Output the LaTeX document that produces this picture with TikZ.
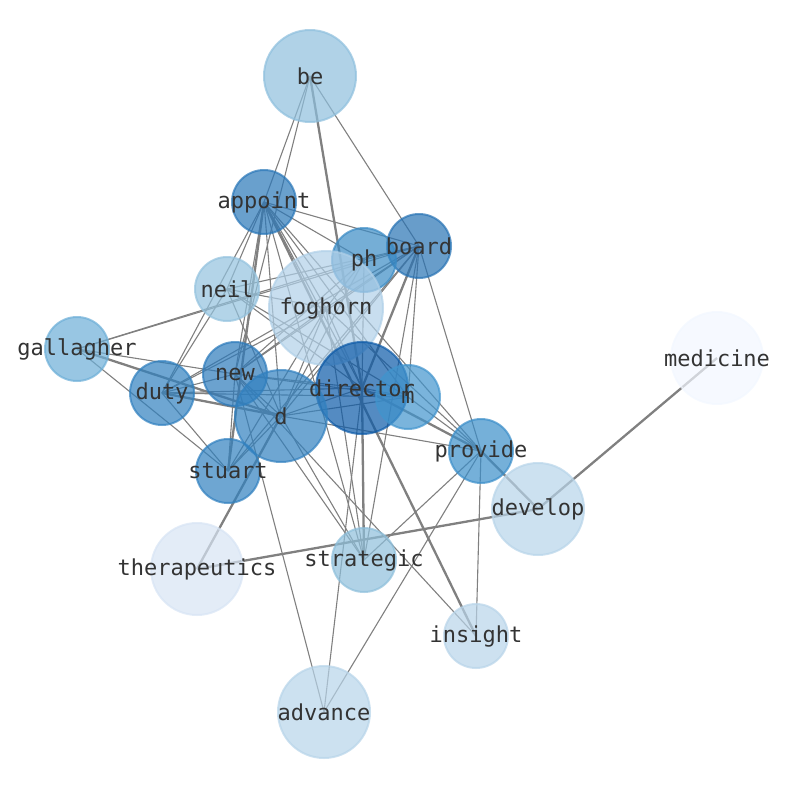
\documentclass[tikz,border=0pt]{standalone}
\usepackage{fontspec}
\setmonofont{DejaVu Sans Mono}
\usetikzlibrary{backgrounds}
\definecolor{ink}{RGB}{51,51,51}
\definecolor{wire}{RGB}{128,128,128}
\definecolor{cbe}{RGB}{142,191,221}
\definecolor{cappoint}{RGB}{42,119,184}
\definecolor{cboard}{RGB}{40,115,180}
\definecolor{cph}{RGB}{58,139,197}
\definecolor{cneil}{RGB}{147,194,222}
\definecolor{cfoghorn}{RGB}{176,208,232}
\definecolor{cgallagher}{RGB}{108,174,215}
\definecolor{cmedicine}{RGB}{242,247,255}
\definecolor{cnew}{RGB}{44,122,187}
\definecolor{cduty}{RGB}{48,128,191}
\definecolor{cdirector}{RGB}{12,90,168}
\definecolor{cm}{RGB}{65,148,205}
\definecolor{cd}{RGB}{49,128,191}
\definecolor{cprovide}{RGB}{58,142,201}
\definecolor{cstuart}{RGB}{48,128,191}
\definecolor{cdevelop}{RGB}{183,212,233}
\definecolor{ctherapeutics}{RGB}{215,228,244}
\definecolor{cstrategic}{RGB}{142,191,219}
\definecolor{cinsight}{RGB}{184,212,233}
\definecolor{cadvance}{RGB}{183,212,233}
\tikzset{
  word/.style={circle, inner sep=0pt, line width=2pt, fill opacity=0.7,
    draw opacity=0.7},
  smalldot/.style={word, minimum size=64pt},
  bigdot/.style={word, minimum size=92pt},
  hugedot/.style={word, minimum size=114pt},
  lbl/.style={font=\ttfamily\fontsize{22}{24}\selectfont, text=ink, inner sep=0pt},
  link/.style={draw=wire, line width=1.1pt},
  tlink/.style={draw=wire, line width=2.3pt},
}
\begin{document}
\begin{tikzpicture}[x=1pt,y=-1pt]
  \useasboundingbox (0,0) rectangle (794,790);
  % words
  \node[bigdot, fill=cbe, draw=cbe] (be) at (310,76) {};
  \node[smalldot, fill=cappoint, draw=cappoint] (appoint) at (264,202) {};
  \node[smalldot, fill=cboard, draw=cboard] (board) at (419,246) {};
  \node[smalldot, fill=cph, draw=cph] (ph) at (364,260) {};
  \node[smalldot, fill=cneil, draw=cneil] (neil) at (227,289) {};
  \node[hugedot, fill=cfoghorn, draw=cfoghorn] (foghorn) at (326,308) {};
  \node[smalldot, fill=cgallagher, draw=cgallagher] (gallagher) at (77,349) {};
  \node[bigdot, fill=cmedicine, draw=cmedicine] (medicine) at (717,358) {};
  \node[smalldot, fill=cnew, draw=cnew] (new) at (235,374) {};
  \node[smalldot, fill=cduty, draw=cduty] (duty) at (162,393) {};
  \node[bigdot, fill=cdirector, draw=cdirector] (director) at (362,388) {};
  \node[smalldot, fill=cm, draw=cm] (m) at (408,397) {};
  \node[bigdot, fill=cd, draw=cd] (d) at (281,416) {};
  \node[smalldot, fill=cprovide, draw=cprovide] (provide) at (481,451) {};
  \node[smalldot, fill=cstuart, draw=cstuart] (stuart) at (228,471) {};
  \node[bigdot, fill=cdevelop, draw=cdevelop] (develop) at (538,509) {};
  \node[bigdot, fill=ctherapeutics, draw=ctherapeutics] (therapeutics) at (197,569) {};
  \node[smalldot, fill=cstrategic, draw=cstrategic] (strategic) at (364,560) {};
  \node[smalldot, fill=cinsight, draw=cinsight] (insight) at (476,636) {};
  \node[bigdot, fill=cadvance, draw=cadvance] (advance) at (324,712) {};
  % co-occurrence links
  \begin{pgfonlayer}{background}
    \foreach \ea/\eb in {be/appoint, be/new, be/board,
      appoint/board, appoint/ph, appoint/neil, appoint/new, appoint/d,
      appoint/foghorn, appoint/director, appoint/m, appoint/provide,
      appoint/strategic, appoint/duty,
      board/ph, board/foghorn, board/d, board/new, board/duty, board/stuart,
      board/m, board/provide, board/strategic, board/neil, board/gallagher,
      ph/foghorn, ph/gallagher, ph/d, ph/director, ph/new,
      neil/duty, neil/foghorn, neil/director, neil/d, neil/m,
      gallagher/new, gallagher/stuart,
      foghorn/d, foghorn/new, foghorn/duty, foghorn/director,
      foghorn/strategic, foghorn/stuart, foghorn/provide,
      new/duty, new/d, new/director, new/m, new/strategic, new/insight,
      new/advance, new/stuart,
      duty/director, duty/m, duty/stuart,
      director/m, director/d, director/advance,
      m/provide, m/d,
      d/provide, d/stuart, d/strategic,
      provide/strategic, provide/insight, provide/advance}
      \draw[link] (\ea.center) -- (\eb.center);
    \foreach \ea/\eb in {be/director, appoint/insight, appoint/stuart,
      board/director, director/provide, director/strategic, duty/d,
      gallagher/d, d/therapeutics, develop/therapeutics, develop/medicine,
      provide/develop}
      \draw[tlink] (\ea.center) -- (\eb.center);
  \end{pgfonlayer}
  % labels on top
  \foreach \w in {be,appoint,board,ph,neil,foghorn,gallagher,medicine,new,duty,
    director,m,d,provide,stuart,develop,therapeutics,strategic,insight,advance}
    \node[lbl] (\w-t) at (\w) {\w};
\end{tikzpicture}
\end{document}
